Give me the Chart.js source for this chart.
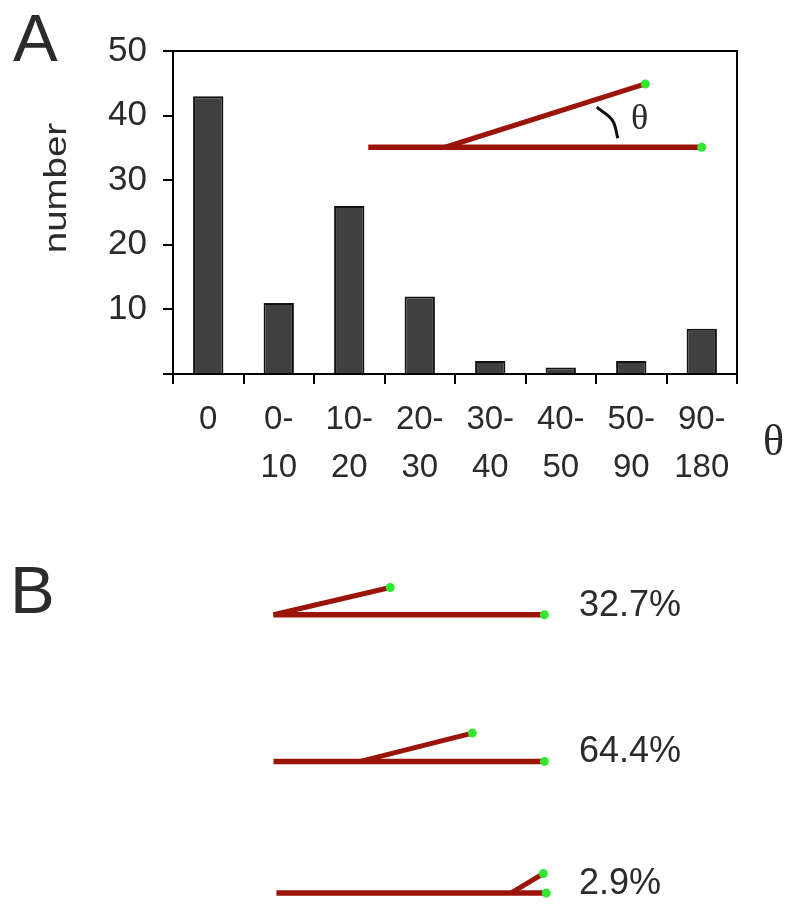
<!DOCTYPE html>
<html>
<head>
<meta charset="utf-8">
<script src="https://cdn.jsdelivr.net/npm/chart.js@4.4.1/dist/chart.umd.min.js"></script>
<style>
    body { margin: 0; background: #fff; width: 800px; height: 923px; position: relative; overflow: hidden;
           font-family: "Liberation Sans", Arial, sans-serif; color: #2b2b2b; }
    .abs { position: absolute; line-height: 1; white-space: nowrap; }
    .serif { font-family: "Liberation Serif", "DejaVu Serif", serif; }
    #canvasA { position: absolute; left: 0; top: 0; }
    #canvasB { position: absolute; left: 0; top: 540px; }
</style>
</head>
<body>
<canvas id="canvasA" width="800" height="540"></canvas>
<canvas id="canvasB" width="800" height="383"></canvas>

<div class="abs" style="left:13px;top:4px;font-size:67px;">A</div>
<div class="abs" style="left:10px;top:556px;font-size:67px;">B</div>
<div class="abs" style="left:55px;top:188px;font-size:31px;transform:translate(-50%,-50%) rotate(-90deg) scaleX(1.24);">number</div>
<div class="abs serif" style="left:631px;top:99px;font-size:36px;">θ</div>
<div class="abs serif" style="left:763px;top:419px;font-size:44px;">θ</div>
<div id="pctLabels"></div>

<script>
// histogram of branch angles
const categories = [['0'], ['0-', '10'], ['10-', '20'], ['20-', '30'], ['30-', '40'], ['40-', '50'], ['50-', '90'], ['90-', '180']];
const counts = [43, 11, 26, 12, 2, 1, 2, 7];
const yTicks = [0, 10, 20, 30, 40, 50];

// inset sketch (x in category units, y in count units)
const insetFilament = [{x: 2.77, y: 35.1}, {x: 7.50, y: 35.1}];
const insetBranch = [{x: 3.86, y: 35.1}, {x: 6.70, y: 44.9}];
const insetArc = [{x: 6.01, y: 41.3}, {x: 6.23, y: 39.3}, {x: 6.31, y: 36.5}];
const insetEnds = [{x: 6.70, y: 44.9}, {x: 7.50, y: 35.1}];

// panel B: filament length = 1
const rowBase = [1.137, 0.588, 0.095];
const filamentStart = [0, 0, 0.011];
const filamentEnd = [1, 1, 1.007];
const branchStart = [0, 0.321, 0.876];
const branchTipX = [0.431, 0.734, 0.996];
const branchTipY = [1.239, 0.694, 0.168];
const percentLabels = ['32.7%', '64.4%', '2.9%'];

const red = '#9b1409';
const green = '#2fe82f';

const framePlugin = {
    id: 'frame',
    afterDraw(chart) {
        const a = chart.chartArea;
        const ctx = chart.ctx;
        ctx.save();
        ctx.strokeStyle = '#000';
        ctx.lineWidth = 2;
        ctx.beginPath();
        ctx.moveTo(a.left, a.top);
        ctx.lineTo(a.right, a.top);
        ctx.lineTo(a.right, a.bottom);
        ctx.stroke();
        ctx.restore();
    }
};

new Chart(document.getElementById('canvasA'), {
    type: 'bar',
    data: {
        labels: categories,
        datasets: [{
            data: insetEnds,
            type: 'scatter',
            xAxisID: 'xd',
            pointRadius: 4.5,
            pointBackgroundColor: green,
            pointBorderWidth: 0,
            order: 0
        }, {
            data: insetFilament,
            type: 'line',
            xAxisID: 'xd',
            borderColor: red,
            borderWidth: 5.5,
            pointRadius: 0,
            order: 1
        }, {
            data: insetBranch,
            type: 'line',
            xAxisID: 'xd',
            borderColor: red,
            borderWidth: 5,
            pointRadius: 0,
            order: 1
        }, {
            data: insetArc,
            type: 'line',
            xAxisID: 'xd',
            borderColor: '#111',
            borderWidth: 3,
            tension: 0.4,
            pointRadius: 0,
            order: 1
        }, {
            data: counts,
            backgroundColor: '#404040',
            borderColor: '#111',
            borderWidth: 2,
            grouped: false,
            barPercentage: 0.43,
            categoryPercentage: 1,
            order: 2
        }]
    },
    options: {
        responsive: false,
        animation: false,
        events: [],
        layout: { padding: { top: 51, right: 63, left: 0, bottom: 0 } },
        plugins: { legend: { display: false }, tooltip: { enabled: false } },
        scales: {
            x: {
                afterFit: scale => { scale.height = 166; },
                grid: { offset: true, drawOnChartArea: false, tickLength: 10, color: '#000', lineWidth: 2 },
                border: { color: '#000', width: 2 },
                ticks: {
                    autoSkip: false, maxRotation: 0, padding: 12, color: '#2b2b2b',
                    font: { family: 'Liberation Sans', size: 33, lineHeight: 1.45 }
                }
            },
            xd: { type: 'linear', display: false, offset: false, grid: { offset: false }, min: 0, max: 8 },
            y: {
                min: 0,
                max: 50,
                afterFit: scale => { scale.width = 173; },
                afterBuildTicks: scale => { scale.ticks = yTicks.map(v => ({ value: v })); },
                grid: { drawOnChartArea: false, tickLength: 10, color: '#000', lineWidth: 2 },
                border: { color: '#000', width: 2 },
                ticks: {
                    padding: 16, color: '#2b2b2b',
                    font: { family: 'Liberation Sans', size: 35 },
                    callback: v => v === 0 ? '' : v
                }
            }
        }
    },
    plugins: [framePlugin]
});

// panel B sketches
const sketchSets = [];
rowBase.forEach((yb, i) => {
    sketchSets.push({
        data: [{x: branchTipX[i], y: branchTipY[i]}, {x: filamentEnd[i], y: yb}],
        type: 'scatter', pointRadius: 4.5, pointBackgroundColor: green, pointBorderWidth: 0, order: 0
    });
    sketchSets.push({
        data: [{x: filamentStart[i], y: yb}, {x: filamentEnd[i], y: yb}],
        type: 'line', borderColor: red, borderWidth: 5.5, pointRadius: 0, order: 1
    });
    sketchSets.push({
        data: [{x: branchStart[i], y: yb}, {x: branchTipX[i], y: branchTipY[i]}],
        type: 'line', borderColor: red, borderWidth: 5, pointRadius: 0, order: 1
    });
});

const chartB = new Chart(document.getElementById('canvasB'), {
    type: 'scatter',
    data: { datasets: sketchSets },
    options: {
        responsive: false,
        animation: false,
        events: [],
        layout: { padding: 0 },
        plugins: { legend: { display: false }, tooltip: { enabled: false } },
        scales: {
            x: { type: 'linear', display: false, min: -0.9927, max: 1.927 },
            y: { type: 'linear', display: false, min: 0, max: 1.4 }
        }
    }
});

// percentage labels placed beside each sketch row
const pctBox = document.getElementById('pctLabels');
const ys = chartB.scales.y;
percentLabels.forEach((txt, i) => {
    const d = document.createElement('div');
    d.className = 'abs';
    d.style.left = '579px';
    d.style.fontSize = '36px';
    d.style.top = (540 + ys.getPixelForValue(rowBase[i]) - 29) + 'px';
    d.textContent = txt;
    pctBox.appendChild(d);
});
</script>
</body>
</html>
